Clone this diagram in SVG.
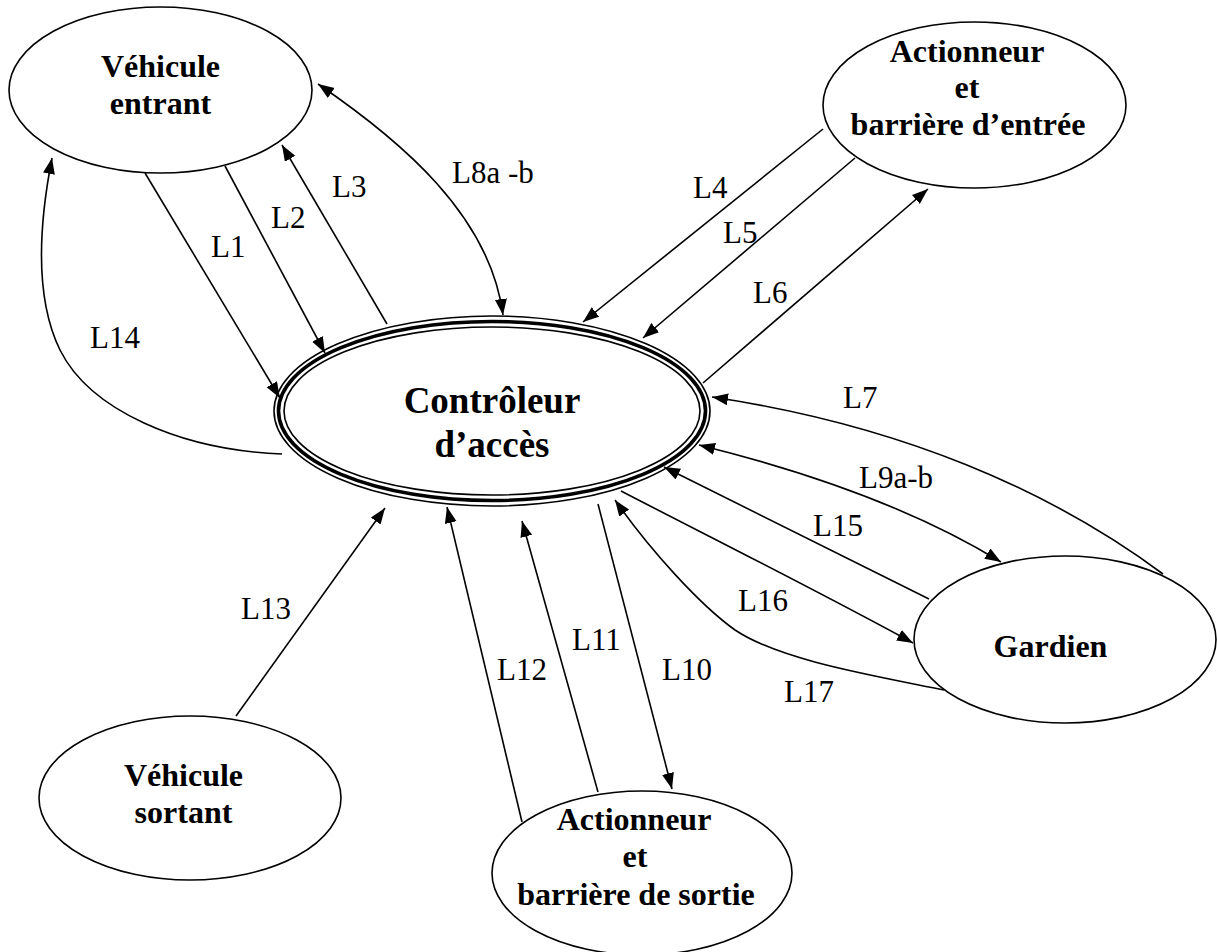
<svg xmlns="http://www.w3.org/2000/svg" width="1217" height="952" viewBox="0 0 1217 952">
  <style>
    .node { fill: #fff; stroke: #000; stroke-width: 1.6; }
    .title { font-family: 'Liberation Serif', 'Times New Roman', Times, 'DejaVu Serif', serif; font-weight: bold; font-size: 32px; text-anchor: middle; fill: #000; }
    .main { font-size: 37px; }
    .edge { fill: none; stroke: #000; stroke-width: 1.6; }
    .one { marker-end: url(#arrow); }
    .two { marker-start: url(#arrow); marker-end: url(#arrow); }
    .lbl { font-family: 'Liberation Serif', 'Times New Roman', Times, 'DejaVu Serif', serif; font-size: 31px; fill: #000; }
  </style>
  <defs>
    <marker id="arrow" markerUnits="userSpaceOnUse" markerWidth="17" markerHeight="13" refX="16" refY="6" orient="auto-start-reverse">
      <path d="M0,0 L16,6 L0,12 z" fill="#000"/>
    </marker>
  </defs>
  <rect width="1217" height="952" fill="#fff"/>

  <g id="vehicule-entrant">
    <ellipse class="node" cx="160.5" cy="90" rx="151.5" ry="83"/>
    <text class="title" x="160.5" y="77">Véhicule</text>
    <text class="title" x="160.5" y="114">entrant</text>
  </g>

  <g id="actionneur-entree">
    <ellipse class="node" cx="974.5" cy="105" rx="151.5" ry="83"/>
    <text class="title" x="967" y="62">Actionneur</text>
    <text class="title" x="967" y="98">et</text>
    <text class="title" x="968" y="135">barrière d’entrée</text>
  </g>

  <g id="gardien">
    <ellipse class="node" cx="1065" cy="639.5" rx="151" ry="83.5"/>
    <text class="title" x="1050.5" y="657">Gardien</text>
  </g>

  <g id="actionneur-sortie">
    <ellipse class="node" cx="642" cy="873" rx="150" ry="82"/>
    <text class="title" x="634" y="830">Actionneur</text>
    <text class="title" x="635" y="867">et</text>
    <text class="title" x="636" y="905">barrière de sortie</text>
  </g>

  <g id="vehicule-sortant">
    <ellipse class="node" cx="190" cy="798" rx="151" ry="82"/>
    <text class="title" x="183.5" y="786">Véhicule</text>
    <text class="title" x="183.5" y="823">sortant</text>
  </g>

  <g id="controleur">
    <ellipse cx="492" cy="411" rx="218" ry="95" fill="#fff" stroke="#000" stroke-width="1.6"/>
    <ellipse cx="492" cy="411" rx="213.5" ry="89.5" fill="none" stroke="#000" stroke-width="3.6"/>
    <ellipse cx="492" cy="411" rx="208" ry="84" fill="none" stroke="#000" stroke-width="1.6"/>
    <text class="title main" x="492" y="413">Contrôleur</text>
    <text class="title main" x="492" y="457">d’accès</text>
  </g>

  <g id="connectors">
    <line class="edge one" x1="145" y1="173" x2="280" y2="398"/>
    <line class="edge one" x1="225" y1="166" x2="325" y2="353"/>
    <line class="edge one" x1="387" y1="324" x2="282" y2="145"/>
    <path class="edge two" d="M318,84 C400,140 490,215 503,315"/>
    <path class="edge one" d="M282,454 C180,450 90,410 60,350 C38,305 36,240 52,158"/>
    <line class="edge one" x1="823" y1="129" x2="583" y2="322"/>
    <line class="edge one" x1="855" y1="158" x2="643" y2="338"/>
    <line class="edge one" x1="703" y1="383" x2="928" y2="189"/>
    <path class="edge one" d="M1163,574 C1050,490 900,425 712,397"/>
    <path class="edge two" d="M699,445 C780,465 900,500 1001,562"/>
    <line class="edge one" x1="929" y1="599" x2="664" y2="467"/>
    <path class="edge one" d="M621,491 C700,532 820,592 913,643"/>
    <path class="edge one" d="M944,690 C870,675 780,660 735,630 C700,605 650,550 615,500"/>
    <line class="edge one" x1="598" y1="504" x2="672" y2="789"/>
    <line class="edge one" x1="598" y1="792" x2="522" y2="521"/>
    <line class="edge one" x1="522" y1="822" x2="447" y2="507"/>
    <line class="edge one" x1="236" y1="716" x2="385" y2="508"/>
  </g>

  <g id="labels">
    <text class="lbl" x="211" y="257">L1</text>
    <text class="lbl" x="271" y="228">L2</text>
    <text class="lbl" x="332" y="197">L3</text>
    <text class="lbl" x="452" y="183">L8a -b</text>
    <text class="lbl" x="90" y="348">L14</text>
    <text class="lbl" x="693" y="198">L4</text>
    <text class="lbl" x="723" y="243">L5</text>
    <text class="lbl" x="753" y="303">L6</text>
    <text class="lbl" x="843" y="408">L7</text>
    <text class="lbl" x="859" y="488">L9a-b</text>
    <text class="lbl" x="813" y="536">L15</text>
    <text class="lbl" x="738" y="611">L16</text>
    <text class="lbl" x="784" y="702">L17</text>
    <text class="lbl" x="662" y="680">L10</text>
    <text class="lbl" x="572" y="650">L11</text>
    <text class="lbl" x="497" y="680">L12</text>
    <text class="lbl" x="241" y="619">L13</text>
  </g>
</svg>
